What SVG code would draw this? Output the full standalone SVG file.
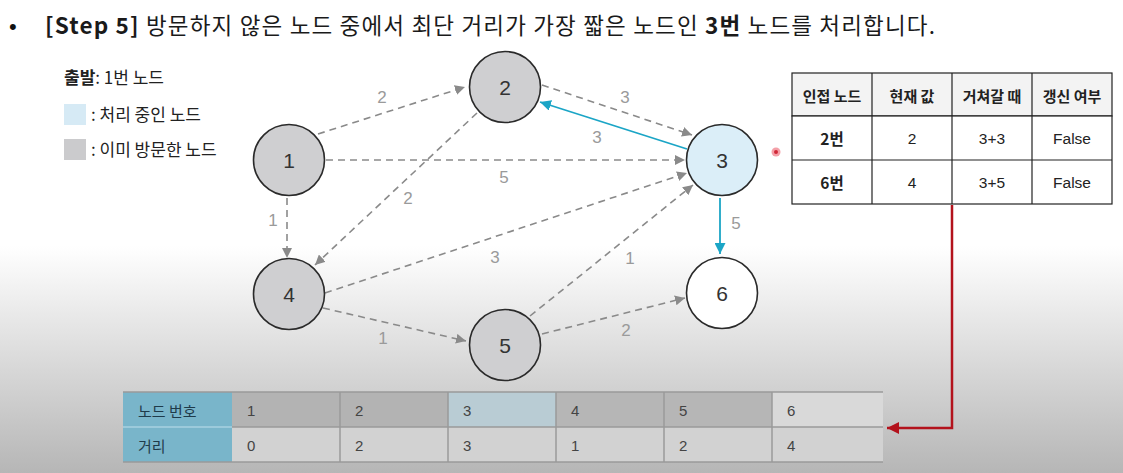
<svg xmlns="http://www.w3.org/2000/svg" width="1123" height="473" viewBox="0 0 1123 473">
<style>
.t{font-family:"Liberation Sans","Noto Sans CJK KR",sans-serif;}
.k{font-family:"Noto Sans CJK KR","Liberation Sans",sans-serif;}
.node circle{stroke:#2a2a2a;stroke-width:1.6;}
.visited{fill:#cfcfd1;}
.cur{fill:#dbeef8;}
.open{fill:#ffffff;}
.nlabel{font-size:21px;fill:#333;text-anchor:middle;dominant-baseline:central;}
.edge{stroke:#8a8a8a;stroke-width:1.6;stroke-dasharray:7 5;fill:none;}
.active{stroke:#1ba5c6;stroke-width:1.8;fill:none;}
.w{font-size:17px;fill:#9a9a9a;text-anchor:middle;dominant-baseline:central;}
.th{font-size:15px;font-weight:bold;fill:#222;text-anchor:middle;dominant-baseline:central;}
.td{font-size:15.5px;fill:#222;text-anchor:middle;dominant-baseline:central;}
.cell{stroke:#222;stroke-width:1.2;}
.bt{font-size:15px;fill:#444;dominant-baseline:central;}
.bl{font-size:15px;fill:#1f3b4a;dominant-baseline:central;}
.grid{stroke:#9a9a9a;stroke-width:1.5;}
.lg{font-size:17px;fill:#222;}
</style>
<defs>
<linearGradient id="bg" x1="0" y1="0" x2="0" y2="1">
<stop offset="0" stop-color="#ffffff"/>
<stop offset="0.52" stop-color="#ffffff"/>
<stop offset="1" stop-color="#b6b6b6"/>
</linearGradient>
<marker id="ag" viewBox="0 0 10 10" refX="10" refY="5" markerWidth="10" markerHeight="10" markerUnits="userSpaceOnUse" orient="auto">
<path d="M0,0 L10,5 L0,10 z" fill="#8a8a8a"/>
</marker>
<marker id="ac" viewBox="0 0 10 10" refX="10" refY="5" markerWidth="11" markerHeight="11" markerUnits="userSpaceOnUse" orient="auto">
<path d="M0,0 L10,5 L0,10 z" fill="#1ba5c6"/>
</marker>
<marker id="ar" viewBox="0 0 10 10" refX="10" refY="5" markerWidth="12" markerHeight="12" markerUnits="userSpaceOnUse" orient="auto">
<path d="M0,0 L10,5 L0,10 z" fill="#b3121c"/>
</marker>
</defs>
<rect x="0" y="0" width="1123" height="473" fill="url(#bg)"/>

<g id="title">
<text class="t" x="9" y="34" font-size="22" fill="#111">•</text>
<text class="k" x="45" y="34" font-size="22.5" fill="#1a1a1a" textLength="890" lengthAdjust="spacing"><tspan font-weight="bold">[Step 5]</tspan> 방문하지 않은 노드 중에서 최단 거리가 가장 짧은 노드인 <tspan font-weight="bold">3번</tspan> 노드를 처리합니다.</text>
</g>

<g id="legend">
<text class="k lg" x="64" y="84"><tspan font-weight="bold">출발</tspan>: 1번 노드</text>
<rect x="64" y="104" width="22" height="21" fill="#d6eaf5"/>
<text class="k lg" x="91" y="121">: 처리 중인 노드</text>
<rect x="64" y="139" width="22" height="21" fill="#cbcbcd"/>
<text class="k lg" x="91" y="156">: 이미 방문한 노드</text>
</g>

<g id="connectors">
<line class="edge" x1="318" y1="134" x2="465" y2="87" marker-end="url(#ag)"/>
<line class="edge" x1="542" y1="85" x2="692" y2="135" marker-end="url(#ag)"/>
<line class="edge" x1="326" y1="160" x2="685" y2="160" marker-end="url(#ag)"/>
<line class="edge" x1="477" y1="113" x2="315" y2="265" marker-end="url(#ag)"/>
<line class="edge" x1="287" y1="198" x2="287" y2="258" marker-end="url(#ag)"/>
<line class="edge" x1="325" y1="293" x2="687" y2="173" marker-end="url(#ag)"/>
<line class="edge" x1="530" y1="316" x2="693" y2="185" marker-end="url(#ag)"/>
<line class="edge" x1="323" y1="308" x2="466" y2="341" marker-end="url(#ag)"/>
<line class="edge" x1="542" y1="334" x2="685" y2="298" marker-end="url(#ag)"/>
<line class="active" x1="687" y1="149" x2="540" y2="102" marker-end="url(#ac)"/>
<line class="active" x1="720" y1="198" x2="720" y2="254" marker-end="url(#ac)"/>
<text class="t w" x="382" y="97">2</text>
<text class="t w" x="625" y="97">3</text>
<text class="t w" x="597" y="137">3</text>
<text class="t w" x="504" y="177">5</text>
<text class="t w" x="408" y="198">2</text>
<text class="t w" x="273" y="220">1</text>
<text class="t w" x="495" y="257">3</text>
<text class="t w" x="630" y="258">1</text>
<text class="t w" x="736" y="223">5</text>
<text class="t w" x="383" y="338">1</text>
<text class="t w" x="626" y="330">2</text>
<path d="M952,205 V428 H887" fill="none" stroke="#b3121c" stroke-width="2.5" marker-end="url(#ar)"/>
</g>

<g id="node1" class="node"><circle class="visited" cx="289" cy="160" r="35.5"/><text class="t nlabel" x="289" y="160">1</text></g>
<g id="node2" class="node"><circle class="visited" cx="505" cy="87" r="35.5"/><text class="t nlabel" x="505" y="87">2</text></g>
<g id="node3" class="node"><circle class="cur" cx="722" cy="160" r="35.5"/><text class="t nlabel" x="722" y="160">3</text></g>
<g id="node4" class="node"><circle class="visited" cx="289" cy="294" r="35.5"/><text class="t nlabel" x="289" y="294">4</text></g>
<g id="node5" class="node"><circle class="visited" cx="505" cy="345" r="35.5"/><text class="t nlabel" x="505" y="345">5</text></g>
<g id="node6" class="node"><circle class="open" cx="722" cy="293" r="35.5"/><text class="t nlabel" x="722" y="293">6</text></g>

<g id="cursor"><circle cx="776" cy="152" r="4.5" fill="#f4a0a8"/><circle cx="776" cy="152" r="2" fill="#d02838"/></g>

<g id="update-table">
<rect class="cell" x="792" y="73" width="320" height="43" fill="#f3f3f3"/>
<rect class="cell" x="792" y="116" width="320" height="88" fill="#ffffff"/>
<line class="cell" x1="792" y1="160" x2="1112" y2="160"/>
<line class="cell" x1="872" y1="73" x2="872" y2="204"/>
<line class="cell" x1="952" y1="73" x2="952" y2="204"/>
<line class="cell" x1="1032" y1="73" x2="1032" y2="204"/>
<text class="k th" x="832" y="95">인접 노드</text>
<text class="k th" x="912" y="95">현재 값</text>
<text class="k th" x="992" y="95">거쳐갈 때</text>
<text class="k th" x="1072" y="95">갱신 여부</text>
<text class="k td" x="832" y="138" font-weight="bold">2번</text>
<text class="t td" x="912" y="138">2</text>
<text class="t td" x="992" y="138">3+3</text>
<text class="t td" x="1072" y="138">False</text>
<text class="k td" x="832" y="182" font-weight="bold">6번</text>
<text class="t td" x="912" y="182">4</text>
<text class="t td" x="992" y="182">3+5</text>
<text class="t td" x="1072" y="182">False</text>
</g>

<g id="distance-table">
<rect x="123" y="392" width="109" height="70" fill="#79b5ca"/>
<line x1="123" y1="427" x2="232" y2="427" stroke="#a8d2e0" stroke-width="1.5"/>
<rect x="232" y="392" width="216" height="35" fill="#b3b3b3"/>
<rect x="448" y="392" width="108" height="35" fill="#b9ccd4"/>
<rect x="556" y="392" width="216" height="35" fill="#b6b6b6"/>
<rect x="772" y="392" width="111" height="35" fill="#d9d9d9"/>
<rect x="232" y="427" width="651" height="35" fill="#d2d2d2"/>
<line class="grid" x1="123" y1="392" x2="883" y2="392"/>
<line class="grid" x1="232" y1="427" x2="883" y2="427"/>
<line class="grid" x1="123" y1="462" x2="883" y2="462"/>
<line class="grid" x1="340" y1="392" x2="340" y2="462"/>
<line class="grid" x1="448" y1="392" x2="448" y2="462"/>
<line class="grid" x1="556" y1="392" x2="556" y2="462"/>
<line class="grid" x1="664" y1="392" x2="664" y2="462"/>
<line class="grid" x1="772" y1="392" x2="772" y2="462"/>
<text class="k bl" x="138" y="410">노드 번호</text>
<text class="k bl" x="138" y="445">거리</text>
<text class="t bt" x="247" y="410">1</text>
<text class="t bt" x="355" y="410">2</text>
<text class="t bt" x="463" y="410">3</text>
<text class="t bt" x="571" y="410">4</text>
<text class="t bt" x="679" y="410">5</text>
<text class="t bt" x="787" y="410">6</text>
<text class="t bt" x="247" y="445">0</text>
<text class="t bt" x="355" y="445">2</text>
<text class="t bt" x="463" y="445">3</text>
<text class="t bt" x="571" y="445">1</text>
<text class="t bt" x="679" y="445">2</text>
<text class="t bt" x="787" y="445">4</text>
</g>
</svg>
